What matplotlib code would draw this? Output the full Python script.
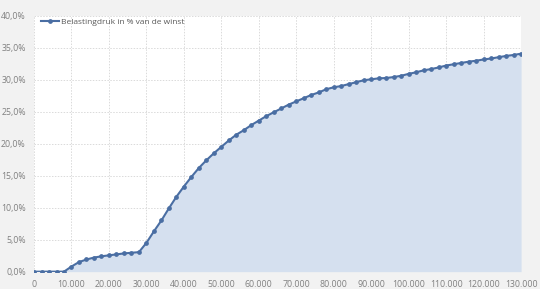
import numpy as np
import matplotlib.pyplot as plt
from matplotlib.ticker import FuncFormatter, MultipleLocator

winst = np.arange(0, 130001, 2000)
druk = [0.0, 0.0, 0.0, 0.0, 0.0, 0.8, 1.5, 1.9, 2.2, 2.4,
        2.55, 2.7, 2.85, 2.95, 3.05, 4.5, 6.3, 8.0, 9.9, 11.7,
        13.3, 14.8, 16.2, 17.4, 18.5, 19.5, 20.5, 21.4, 22.1, 22.9,
        23.6, 24.3, 24.9, 25.5, 26.1, 26.6, 27.1, 27.6, 28.0, 28.5,
        28.8, 29.0, 29.3, 29.6, 29.9, 30.05, 30.2, 30.25, 30.4, 30.6,
        30.9, 31.15, 31.45, 31.65, 31.9, 32.2, 32.4, 32.6, 32.8, 32.95,
        33.15, 33.3, 33.5, 33.7, 33.85, 34.05]
label = 'Belastingdruk in % van de winst'

plt.rcParams['font.family'] = ['Open Sans', 'DejaVu Sans']

fig = plt.figure(figsize=(5.4, 2.89), dpi=100, facecolor='#f2f2f2')
ax = fig.add_axes((0.063, 0.06, 0.902, 0.886))
ax.set_facecolor('white')

ax.fill_between(winst, druk, 0, color='#d5e0ef', lw=0, zorder=1)
ax.plot(winst, druk, color='#4a6ea3', lw=1.5, marker='o', ms=2.4,
        label=label, zorder=3)

ax.set_xlim(0, 130000)
ax.set_ylim(0, 40)
ax.xaxis.set_major_locator(MultipleLocator(10000))
ax.yaxis.set_major_locator(MultipleLocator(5))
ax.xaxis.set_major_formatter(FuncFormatter(lambda v, p: f'{int(v):,}'.replace(',', '.')))
ax.yaxis.set_major_formatter(FuncFormatter(lambda v, p: f'{v:.1f}%'.replace('.', ',')))
ax.grid(True, color='#dadada', ls=(0, (1.5, 1.5)), lw=0.7, zorder=0)
ax.set_axisbelow(True)
for s in ax.spines.values():
    s.set_visible(False)
ax.tick_params(length=0, labelsize=6.3, colors='#808080', pad=6)

ax.legend(loc='upper left', frameon=False, fontsize=6, handlelength=2.2,
          handletextpad=0.3, bbox_to_anchor=(-0.002, 1.02), labelcolor='#595959')

fig.savefig('out.png', dpi=100, facecolor=fig.get_facecolor())
